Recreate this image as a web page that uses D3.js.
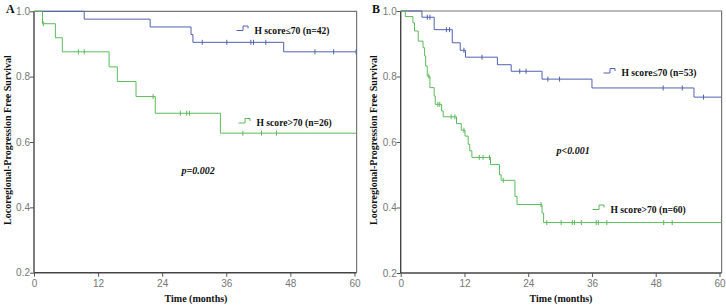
<!DOCTYPE html>
<html><head><meta charset="utf-8">
<script src="https://cdn.jsdelivr.net/npm/d3@7"></script>
<style>
html,body{margin:0;padding:0;background:#fff;}
svg{display:block;}
</style></head>
<body>
<script>
// ---------- DATA ----------
const xTicks = [0, 12, 24, 36, 48, 60];
const yTicks = [0.2, 0.4, 0.6, 0.8, 1.0];
const panelLabels = ["A", "B"];
const pValues = ["p=0.002", "p<0.001"];
const seriesNames = ["H score\u226470 (n=42)", "H score>70 (n=26)", "H score\u226470 (n=53)", "H score>70 (n=60)"];

// Panel A, H score<=70
const aLowTimes = [0, 9.4, 21.75, 29.4, 29.75, 46.75, 60.3];
const aLowSurv  = [1.0, 0.976, 0.952, 0.929, 0.905, 0.876, 0.876];
const aLowCens  = [31.5, 36.1, 40.6, 41.1, 43.4, 52.6, 56.1, 60.3];
// Panel A, H score>70
const aHighTimes = [0, 1.6, 4.0, 5.3, 14.06, 15.6, 19.1, 22.7, 34.9, 60.3];
const aHighSurv  = [1.0, 0.962, 0.919, 0.876, 0.830, 0.785, 0.739, 0.688, 0.627, 0.627];
const aHighCens  = [1.75, 8.3, 9.4, 22.3, 27.4, 28.6, 29.1, 39.1, 42.6, 45.4];
// Panel B, H score<=70
const bLowTimes = [0, 4.0, 6.3, 9.7, 11.2, 12.2, 18.2, 20.8, 26.6, 36.0, 55.2, 60.3];
const bLowSurv  = [1.0, 0.981, 0.943, 0.903, 0.880, 0.859, 0.836, 0.816, 0.792, 0.765, 0.737, 0.737];
const bLowCens  = [5.0, 5.5, 8.6, 9.2, 11.9, 15.3, 22.4, 23.6, 27.7, 29.9, 49.4, 53.0, 57.0];
// Panel B, H score>70
const bHighTimes = [0, 0.87, 2.3, 2.6, 3.3, 4.2, 4.5, 4.7, 5.0, 5.5, 6.3, 6.5, 7.7, 8.0, 10.5, 11.4, 12.1, 12.7, 13.0, 13.4, 16.9, 18.6, 18.9, 21.5, 21.9, 26.6, 26.9, 60.3];
const bHighSurv  = [1.0, 0.983, 0.964, 0.939, 0.908, 0.888, 0.863, 0.832, 0.801, 0.766, 0.741, 0.715, 0.695, 0.677, 0.656, 0.636, 0.618, 0.593, 0.573, 0.553, 0.531, 0.500, 0.483, 0.434, 0.409, 0.383, 0.354, 0.354];
const bHighCens  = [5.3, 7.0, 7.35, 9.5, 10.2, 11.9, 14.8, 15.5, 16.7, 19.3, 26.4, 27.5, 30.2, 32.3, 32.7, 34.0, 36.8, 37.2, 38.8, 49.5, 51.1];

const blue = "#5262ad", green = "#5cba5c";

// ---------- LAYOUT ----------
const W = 726, H = 308;
const svg = d3.select("body").append("svg").attr("width", W).attr("height", H);
const serif = "'Liberation Serif','Times New Roman',serif";
const sans = "'Liberation Sans',Arial,sans-serif";

const panels = [
  {x0: 34, x1: 356.6, y0: 272.7, y1: 11.3, label: panelLabels[0], labelX: 6, p: pValues[0], pX: 181.5, pY: 174,
   xLabelX: 196, yLabelX: 11,
   series: [
     {t: aLowTimes, s: aLowSurv, c: aLowCens, color: blue, name: seriesNames[0], lx: 254.5, ly: 33.5},
     {t: aHighTimes, s: aHighSurv, c: aHighCens, color: green, name: seriesNames[1], lx: 256.5, ly: 126}
   ]},
  {x0: 400.7, x1: 721.6, y0: 273, y1: 11, label: panelLabels[1], labelX: 372, p: pValues[1], pX: 556.5, pY: 153.5,
   xLabelX: 561, yLabelX: 377,
   series: [
     {t: bLowTimes, s: bLowSurv, c: bLowCens, color: blue, name: seriesNames[2], lx: 621.5, ly: 76},
     {t: bHighTimes, s: bHighSurv, c: bHighCens, color: green, name: seriesNames[3], lx: 610.5, ly: 212.5}
   ]}
];

panels.forEach(P => {
  const g = svg.append("g");
  const x = d3.scaleLinear().domain([0, 60.4]).range([P.x0, P.x1]);
  const y = d3.scaleLinear().domain([0.2, 1.0]).range([P.y0, P.y1]);

  // frame top/right
  g.append("path")
    .attr("d", `M${P.x0},${P.y1}H${P.x1}V${P.y0}`)
    .attr("fill", "none").attr("stroke", "#777").attr("stroke-width", 1.2);

  // axes
  const xa = g.append("g").attr("transform", `translate(0,${P.y0})`)
    .call(d3.axisBottom(x).tickValues(xTicks).tickSize(4).tickPadding(3).tickFormat(d3.format("d")));
  const ya = g.append("g").attr("transform", `translate(${P.x0},0)`)
    .call(d3.axisLeft(y).tickValues(yTicks).tickSize(4).tickPadding(0).tickFormat(d3.format(".1f")));
  [xa, ya].forEach(a => {
    a.select(".domain").attr("stroke", "#444").attr("stroke-width", 1.4);
    a.selectAll(".tick line").attr("stroke", "#555");
    a.selectAll("text").attr("fill", "#777").style("font-family", sans).style("font-size", "10px");
  });
  ya.select(".domain").attr("d", `M0,${P.y0}V${P.y1}`);
  xa.select(".domain").attr("d", `M${P.x0},0H${P.x1}`);

  // curves
  P.series.forEach(S => {
    const pts = S.t.map((t, i) => [t, S.s[i]]);
    const line = d3.line().x(d => x(d[0])).y(d => y(d[1])).curve(d3.curveStepAfter);
    g.append("path").datum(pts).attr("d", line)
      .attr("fill", "none").attr("stroke", S.color).attr("stroke-width", 1);
    const survAt = t => { let v = S.s[0]; S.t.forEach((tt, i) => { if (tt <= t) v = S.s[i]; }); return v; };
    g.selectAll(null).data(S.c).enter().append("line")
      .attr("x1", d => x(d)).attr("x2", d => x(d))
      .attr("y1", d => y(survAt(d)) - 2.5).attr("y2", d => y(survAt(d)) + 2.5)
      .attr("stroke", S.color).attr("stroke-width", 1);
    // legend
    const T = S.lx, B = S.ly;
    g.append("path")
      .attr("d", `M${T-18},${B-3}H${T-11.5}V${B-7.5}H${T-6.5}V${B-5}`)
      .attr("fill", "none").attr("stroke", S.color).attr("stroke-width", 1);
    g.append("text").attr("x", T).attr("y", B).text(S.name)
      .style("font-family", serif).style("font-weight", "bold").style("font-size", "9.6px").attr("fill", "#111");
  });

  // p value
  g.append("text").attr("x", P.pX).attr("y", P.pY).text(P.p)
    .style("font-family", serif).style("font-weight", "bold").style("font-style", "italic")
    .style("font-size", "10px").attr("fill", "#111");

  // panel label
  g.append("text").attr("x", P.labelX).attr("y", 13).text(P.label)
    .style("font-family", serif).style("font-weight", "bold").style("font-size", "12px").attr("fill", "#111");

  // axis titles
  g.append("text").attr("x", P.xLabelX).attr("y", 302).attr("text-anchor", "middle").text("Time (months)")
    .style("font-family", serif).style("font-weight", "bold").style("font-size", "10px").attr("fill", "#111");
  g.append("text").attr("transform", `translate(${P.yLabelX},140) rotate(-90)`).attr("text-anchor", "middle")
    .text("Locoregional-Progression Free Survival")
    .style("font-family", serif).style("font-weight", "bold").style("font-size", "10px").attr("fill", "#111");
});
</script>
</body></html>
